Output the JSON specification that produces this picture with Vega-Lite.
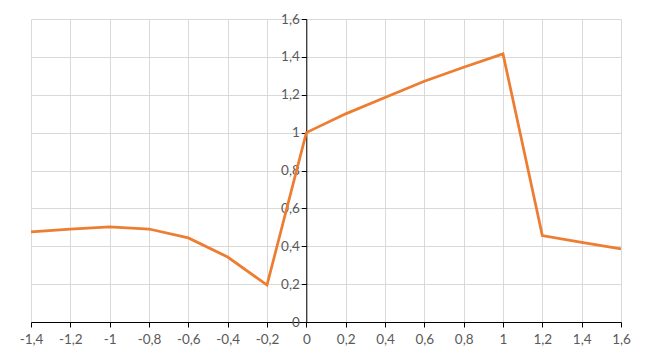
{
  "$schema": "https://vega.github.io/schema/vega-lite/v6.json",
  "width": 590,
  "height": 303,
  "autosize": "none",
  "padding": {"left": 31, "top": 19, "right": 29, "bottom": 40},
  "background": "#ffffff",
  "config": {
    "locale": {"number": {"decimal": ",", "thousands": " ", "grouping": [3], "currency": ["", " €"], "minus": "-"}},
    "view": {"stroke": null},
    "axis": {
      "labelFont": "Lato",
      "labelFontSize": 13.5,
      "labelColor": "#595959",
      "gridColor": "#d9d9d9",
      "gridWidth": 1,
      "domainColor": "#000000",
      "domainWidth": 1,
      "tickColor": "#000000",
      "tickSize": 5,
      "title": null
    }
  },
  "data": {
    "values": [
      {"x": -1.4, "y": 0.476},
      {"x": -1.2, "y": 0.491},
      {"x": -1.0, "y": 0.502},
      {"x": -0.8, "y": 0.491},
      {"x": -0.6, "y": 0.444},
      {"x": -0.4, "y": 0.343},
      {"x": -0.2, "y": 0.195},
      {"x": 0.0, "y": 1.0},
      {"x": 0.2, "y": 1.099},
      {"x": 0.4, "y": 1.186},
      {"x": 0.6, "y": 1.271},
      {"x": 0.8, "y": 1.345},
      {"x": 1.0, "y": 1.416},
      {"x": 1.2, "y": 0.456},
      {"x": 1.4, "y": 0.421},
      {"x": 1.6, "y": 0.386}
    ]
  },
  "mark": {"type": "line", "color": "#ED7D31", "strokeWidth": 2.75, "strokeJoin": "miter"},
  "encoding": {
    "x": {
      "field": "x",
      "type": "quantitative",
      "scale": {"domain": [-1.4, 1.6], "nice": false, "zero": false},
      "axis": {
        "values": [-1.4, -1.2, -1, -0.8, -0.6, -0.4, -0.2, 0, 0.2, 0.4, 0.6, 0.8, 1, 1.2, 1.4, 1.6],
        "format": ".1~f",
        "labelPadding": 5,
        "labelFlush": false,
        "labelOverlap": false,
        "grid": true
      }
    },
    "y": {
      "field": "y",
      "type": "quantitative",
      "scale": {"domain": [0, 1.6], "nice": false},
      "axis": {
        "values": [0, 0.2, 0.4, 0.6, 0.8, 1, 1.2, 1.4, 1.6],
        "format": ".1~f",
        "offset": -275.3,
        "labelPadding": 2,
        "labelFlush": false,
        "labelOverlap": false,
        "grid": true
      }
    }
  }
}
